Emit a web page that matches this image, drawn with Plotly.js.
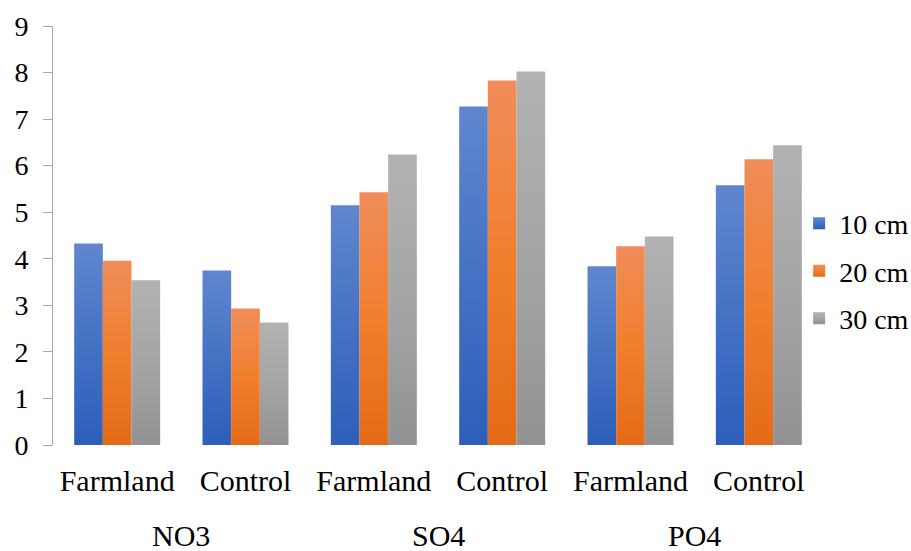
<!DOCTYPE html>
<html>
<head>
<meta charset="utf-8">
<script src="https://cdn.plot.ly/plotly-3.0.1.min.js"></script>
</head>
<body style="margin:0">
<div id="chart"></div>
<script>
const groups = ['NO3', 'NO3', 'SO4', 'SO4', 'PO4', 'PO4'];
const sites = ['Farmland', 'Control', 'Farmland', 'Control', 'Farmland', 'Control'];
const seriesNames = ['10 cm', '20 cm', '30 cm'];
const depth10 = [4.33, 3.75, 5.15, 7.27, 3.84, 5.58];
const depth20 = [3.96, 2.93, 5.43, 7.83, 4.27, 6.14];
const depth30 = [3.54, 2.63, 6.24, 8.02, 4.48, 6.44];
const yTicks = [0, 1, 2, 3, 4, 5, 6, 7, 8, 9];

const colors = ['#4472C4', '#F07F2E', '#A5A5A5'];
const gradStops = [
  ['#6186CE', '#2D5FB9'],
  ['#F08D5B', '#E46A17'],
  ['#B2B2B2', '#929292']
];
const serif = 'Liberation Serif';
const baseFont = {family: serif, color: '#000000', size: 28};
const xFont = {family: serif, color: '#000000', size: 30};

const xIdx = sites.map((s, i) => i);

const data = [depth10, depth20, depth30].map((vals, i) => ({
  type: 'bar',
  name: seriesNames[i],
  x: xIdx,
  y: vals,
  legendgroup: 'g' + i,
  marker: {color: colors[i], line: {width: 0}},
  hoverinfo: 'skip'
}));

// group labels centred under their categories
const uniqueGroups = [...new Set(groups)];
const annotations = uniqueGroups.map(g => {
  const idx = xIdx.filter(i => groups[i] === g);
  const mid = idx.reduce((a, b) => a + b, 0) / idx.length;
  return {
    text: g, x: mid, xref: 'x', y: -0.215, yref: 'paper',
    xanchor: 'center', yanchor: 'middle', showarrow: false, font: xFont
  };
});

const layout = {
  width: 911,
  height: 551,
  margin: {l: 53, r: 88, t: 26, b: 106, autoexpand: false},
  paper_bgcolor: '#ffffff',
  plot_bgcolor: '#ffffff',
  font: baseFont,
  barmode: 'group',
  bargap: 0.33,
  bargroupgap: 0,
  showlegend: true,
  legend: {
    x: 0.969, xanchor: 'left',
    y: 0.588, yanchor: 'top',
    font: baseFont,
    bgcolor: 'rgba(0,0,0,0)',
    tracegroupgap: 8,
    traceorder: 'grouped'
  },
  annotations: annotations,
  xaxis: {
    range: [-0.5, sites.length - 0.5],
    tickvals: xIdx,
    ticktext: sites,
    showline: false,
    showgrid: false,
    zeroline: false,
    ticks: '',
    ticklabelstandoff: 15,
    tickfont: xFont
  },
  yaxis: {
    range: [0, 9],
    tickvals: yTicks,
    ticktext: yTicks.map(String),
    showline: true,
    linecolor: '#A6A6A6',
    linewidth: 1,
    ticks: 'outside',
    ticklen: 9,
    tickcolor: '#A6A6A6',
    showgrid: false,
    zeroline: false,
    ticklabelstandoff: 9,
    tickfont: baseFont
  }
};

Plotly.newPlot('chart', data, layout, {displayModeBar: false}).then(gd => {
  const svg = gd.querySelector('svg.main-svg');
  const ns = 'http://www.w3.org/2000/svg';
  let defs = svg.querySelector('defs');
  if (!defs) { defs = document.createElementNS(ns, 'defs'); svg.insertBefore(defs, svg.firstChild); }
  gradStops.forEach((st, i) => {
    const g = document.createElementNS(ns, 'linearGradient');
    g.setAttribute('id', 'bargrad' + i);
    g.setAttribute('x1', '0'); g.setAttribute('y1', '0');
    g.setAttribute('x2', '0'); g.setAttribute('y2', '1');
    [[0, st[0]], [0.5, colors[i]], [1, st[1]]].forEach(([o, c]) => {
      const s = document.createElementNS(ns, 'stop');
      s.setAttribute('offset', o);
      s.setAttribute('stop-color', c);
      g.appendChild(s);
    });
    defs.appendChild(g);
  });
  gd.querySelectorAll('.barlayer .trace').forEach((t, i) => {
    t.querySelectorAll('path').forEach(p => { p.style.fill = 'url(#bargrad' + i + ')'; });
  });
  gd.querySelectorAll('.legend .traces').forEach((t, i) => {
    t.querySelectorAll('.legendpoints path').forEach(p => { p.style.fill = 'url(#bargrad' + i + ')'; });
  });
});
</script>
</body>
</html>
